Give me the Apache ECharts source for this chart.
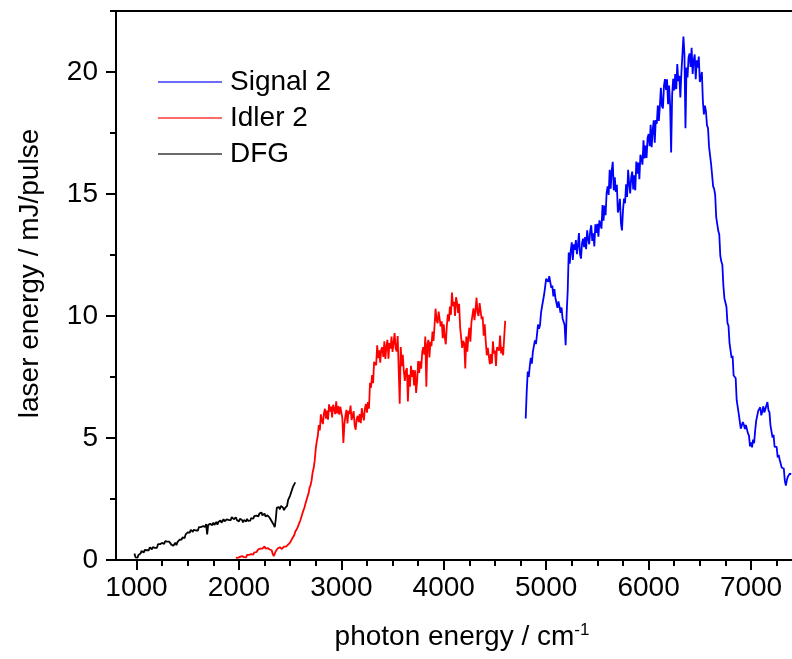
<!DOCTYPE html>
<html>
<head>
<meta charset="utf-8">
<script src="https://cdn.jsdelivr.net/npm/echarts@6/dist/echarts.min.js"></script>
<style>
  html, body { margin: 0; padding: 0; background: #fff; }
  #chart { width: 792px; height: 659px; }
</style>
</head>
<body>
<div id="chart"></div>
<script>
const FONT = '"Liberation Sans", Arial, Helvetica, sans-serif';

// Each trace: first wavenumber (cm-1), sampling step (cm-1) and pulse energies (mJ/pulse)
const signalStart = 4800, signalStep = 10;
const signalEnergy = [
  5.80,6.90,7.72,7.50,7.95,8.28,8.05,8.53,8.55,9.00,
  8.85,9.23,9.65,9.48,9.63,10.15,10.40,10.43,10.88,10.83,
  11.53,11.48,11.40,11.63,11.58,11.15,11.25,10.80,11.10,10.75,
  10.80,10.33,10.60,10.38,10.13,10.35,9.90,9.98,9.63,8.80,
  10.10,11.02,12.60,12.14,12.69,13.02,12.30,12.94,12.71,13.11,
  12.53,12.90,13.40,12.53,12.35,12.98,13.17,12.82,13.23,12.74,
  13.51,13.16,12.94,13.49,13.72,13.08,13.39,12.85,13.76,13.41,
  13.78,13.25,13.92,13.75,13.58,14.55,13.91,14.53,14.13,15.05,
  15.31,14.96,15.99,15.22,15.97,16.32,15.15,15.68,15.08,15.38,
  14.24,14.41,14.80,13.80,13.51,14.34,14.81,14.62,15.40,14.88,
  15.99,15.44,15.02,15.68,15.92,15.19,15.77,15.15,16.33,15.83,
  16.29,15.61,16.61,16.46,16.20,17.20,16.46,16.98,16.48,17.30,
  17.46,16.96,17.84,16.92,17.62,18.02,17.10,18.03,17.88,18.63,
  17.99,18.61,19.35,18.60,18.51,19.44,19.71,19.27,19.70,18.68,
  19.44,18.64,16.70,19.08,19.72,19.24,19.92,19.30,20.33,19.63,
  19.84,18.96,19.96,19.96,21.45,20.70,17.70,20.18,19.78,20.60,
  20.76,20.21,20.99,19.92,20.47,20.72,19.70,20.48,20.18,20.63,
  19.59,19.76,20.00,18.80,18.26,18.62,18.38,17.81,17.70,16.94,
  16.93,16.23,16.22,15.31,15.21,14.96,14.05,14.04,13.49,13.34,
  12.47,12.23,12.10,11.25,10.73,10.72,10.38,9.71,9.60,8.89,
  8.93,8.28,8.37,7.56,7.61,7.46,6.55,6.54,5.99,5.99,
  5.38,5.32,5.65,5.55,5.37,5.53,5.47,5.19,5.10,4.66,
  4.82,4.62,4.93,4.79,5.29,5.69,5.65,6.11,6.06,6.26,
  5.93,6.07,6.30,6.05,5.97,6.33,6.47,6.14,6.05,5.51,
  5.47,5.02,5.13,4.64,4.69,4.64,4.20,4.31,4.11,4.16,
  3.78,3.77,3.75,3.25,3.05,3.28,3.42,3.34,3.55,3.50
];

const idlerStart = 1970, idlerStep = 10;
const idlerEnergy = [
  0.10,0.15,0.09,0.17,0.13,0.09,0.16,0.18,0.12,0.16,
  0.11,0.21,0.17,0.21,0.16,0.24,0.23,0.22,0.31,0.26,
  0.32,0.32,0.44,0.49,0.47,0.55,0.47,0.52,0.56,0.47,
  0.53,0.49,0.53,0.43,0.43,0.40,0.25,0.16,0.26,0.36,
  0.40,0.48,0.43,0.52,0.48,0.45,0.52,0.55,0.49,0.55,
  0.51,0.63,0.62,0.71,0.73,0.88,0.95,1.01,1.16,1.17,
  1.30,1.35,1.52,1.63,1.70,1.91,1.96,2.15,2.32,2.37,
  2.60,2.73,2.96,3.07,3.27,3.60,3.77,4.07,4.54,4.86,
  5.07,5.53,5.31,5.97,5.72,5.57,6.01,6.20,5.79,6.12,
  5.75,6.38,6.08,6.29,5.84,6.36,6.19,5.98,6.50,6.01,
  6.31,5.96,6.28,6.21,5.81,4.80,5.57,5.92,6.15,5.60,
  6.11,5.98,6.33,5.74,5.89,6.10,5.53,5.34,5.79,5.91,
  5.65,5.98,5.61,6.22,5.92,5.72,6.21,6.40,6.04,6.47,
  6.20,7.26,7.06,7.58,7.25,8.12,8.10,7.98,8.80,8.27,
  8.59,8.09,8.63,8.72,8.32,8.96,8.24,8.74,9.02,8.25,
  8.89,8.66,9.16,8.53,8.90,9.30,8.68,8.55,9.18,9.22,
  6.40,8.73,7.94,8.41,7.76,7.34,7.74,7.87,6.50,7.59,
  7.10,7.96,7.51,7.78,7.15,7.77,6.85,7.33,8.15,7.67,
  8.14,7.84,8.53,8.72,8.42,9.16,7.10,8.84,9.02,8.30,
  8.94,8.76,9.36,8.98,9.60,10.30,9.83,9.70,10.18,10.12,
  9.57,9.78,9.09,9.66,9.11,8.84,9.59,10.07,9.78,10.39,
  10.05,10.96,10.41,10.58,10.00,10.77,10.55,10.13,10.50,9.52,
  9.49,8.69,8.98,8.87,7.85,9.16,8.54,9.14,9.52,8.95,
  9.74,9.71,10.31,9.83,10.25,10.75,10.13,10.00,10.53,10.47,
  9.87,9.98,9.19,9.66,8.96,8.39,8.69,8.72,8.03,8.44,
  8.05,8.96,8.46,8.58,7.95,8.72,8.70,8.58,9.20,8.47,
  8.74,8.39,9.13,9.80
];

const dfgStart = 980, dfgStep = 10;
const dfgEnergy = [
  0.27,0.11,0.17,0.10,0.21,0.17,0.27,0.37,0.30,0.30,
  0.41,0.44,0.40,0.47,0.40,0.52,0.47,0.44,0.53,0.57,
  0.50,0.57,0.50,0.65,0.59,0.65,0.58,0.70,0.68,0.66,
  0.77,0.69,0.75,0.69,0.75,0.72,0.63,0.69,0.58,0.66,
  0.71,0.61,0.73,0.73,0.83,0.76,0.84,0.93,0.88,0.90,
  1.05,1.13,1.13,1.20,1.12,1.24,1.18,1.15,1.24,1.28,
  1.21,1.28,1.21,1.35,1.30,1.35,1.28,1.39,1.38,1.35,
  1.47,1.05,1.44,1.38,1.48,1.49,1.43,1.53,1.44,1.52,
  1.56,1.45,1.56,1.54,1.62,1.53,1.59,1.67,1.58,1.56,
  1.66,1.69,1.64,1.71,1.63,1.76,1.70,1.67,1.74,1.75,
  1.64,1.68,1.58,1.69,1.61,1.64,1.54,1.64,1.61,1.58,
  1.69,1.60,1.66,1.61,1.72,1.74,1.69,1.80,1.72,1.82,
  1.88,1.79,1.90,1.88,1.95,1.83,1.86,1.90,1.79,1.75,
  1.83,1.82,1.73,1.74,1.59,1.61,1.44,1.35,1.67,2.15,
  2.12,2.17,2.08,2.21,2.14,2.15,2.04,2.13,2.16,2.22,
  2.45,2.47,2.64,2.69,2.90,3.02,3.05,3.18
];

// Axis ticks
const xMajorTicks = [1000, 2000, 3000, 4000, 5000, 6000, 7000];
const xMinorTicks = [1000, 1250, 1500, 1750, 2000, 2250, 2500, 2750, 3000, 3250, 3500, 3750,
  4000, 4250, 4500, 4750, 5000, 5250, 5500, 5750, 6000, 6250, 6500, 6750, 7000, 7250];
const yMajorTicks = [0, 5, 10, 15, 20];

function toPairs(start, step, values) {
  return values.map((v, i) => [start + i * step, v]);
}

const chart = echarts.init(document.getElementById('chart'), null, { renderer: 'canvas' });

const axisColor = '#000';
const frameLine = { color: axisColor, width: 2 };
const xRange = { min: 800, max: 7400 };
const yRange = { min: 0, max: 22.5 };
const plain = v => String(v);

function trace(name, start, step, values, color) {
  return {
    name, type: 'line', xAxisIndex: 0, yAxisIndex: 0,
    data: toPairs(start, step, values),
    showSymbol: false, symbol: 'none', silent: true,
    lineStyle: { color, width: 1.8 }, itemStyle: { color }
  };
}

chart.setOption({
  animation: false,
  backgroundColor: '#fff',
  textStyle: { fontFamily: FONT },
  grid: {
    left: 116, top: 11, right: 0, bottom: 99,
    outerBoundsMode: 'none', containLabel: false
  },
  legend: {
    orient: 'vertical',
    left: 158, top: 68, padding: 0,
    itemWidth: 64, itemHeight: 2, itemGap: 8,
    icon: 'rect',
    selectedMode: false,
    textStyle: { fontSize: 28, fontFamily: FONT, color: '#000', padding: [0, 0, 0, 3] },
    data: [
      { name: 'Signal 2', itemStyle: { color: '#6b6bff' } },
      { name: 'Idler 2', itemStyle: { color: '#ff6b6b' } },
      { name: 'DFG', itemStyle: { color: '#6b6b6b' } }
    ]
  },
  xAxis: [
    {
      type: 'value', position: 'bottom', ...xRange,
      axisLine: { onZero: false, lineStyle: frameLine },
      axisTick: { customValues: xMajorTicks, length: 10, lineStyle: frameLine },
      axisLabel: { customValues: xMajorTicks, formatter: plain, color: '#000', fontSize: 28, fontFamily: FONT, margin: 14 },
      splitLine: { show: false },
      name: 'photon energy / cm{sup|-1}',
      nameLocation: 'middle', nameGap: 62,
      nameTextStyle: {
        color: '#000', fontSize: 28, fontFamily: FONT, padding: [0, 0, 0, 16],
        rich: { sup: { fontSize: 17, fontFamily: FONT, color: '#000', padding: [0, 0, 14, 0] } }
      }
    },
    {
      type: 'value', position: 'bottom', ...xRange,
      axisLine: { show: false },
      axisTick: { customValues: xMinorTicks, length: 6, lineStyle: frameLine },
      axisLabel: { show: false },
      splitLine: { show: false }
    },
    {
      // top frame edge
      type: 'value', position: 'top', ...xRange,
      axisLine: { onZero: false, lineStyle: frameLine },
      axisTick: { show: false },
      axisLabel: { show: false },
      splitLine: { show: false }
    }
  ],
  yAxis: [
    {
      type: 'value', position: 'left', ...yRange,
      axisLine: { onZero: false, lineStyle: frameLine },
      axisTick: { customValues: yMajorTicks, length: 10, lineStyle: frameLine },
      axisLabel: { customValues: yMajorTicks, formatter: plain, color: '#000', fontSize: 28, fontFamily: FONT, margin: 18 },
      splitLine: { show: false },
      name: 'laser energy / mJ/pulse',
      nameLocation: 'middle', nameGap: 72,
      nameTextStyle: { color: '#000', fontSize: 28, fontFamily: FONT, padding: [0, 0, 0, 24] }
    },
    {
      type: 'value', position: 'left', ...yRange, interval: 2.5,
      axisLine: { show: false },
      axisTick: { length: 6, lineStyle: frameLine },
      axisLabel: { show: false },
      splitLine: { show: false }
    }
  ],
  series: [
    trace('Signal 2', signalStart, signalStep, signalEnergy, '#0000ff'),
    trace('Idler 2', idlerStart, idlerStep, idlerEnergy, '#ff0000'),
    trace('DFG', dfgStart, dfgStep, dfgEnergy, '#000000')
  ]
});
</script>
</body>
</html>
